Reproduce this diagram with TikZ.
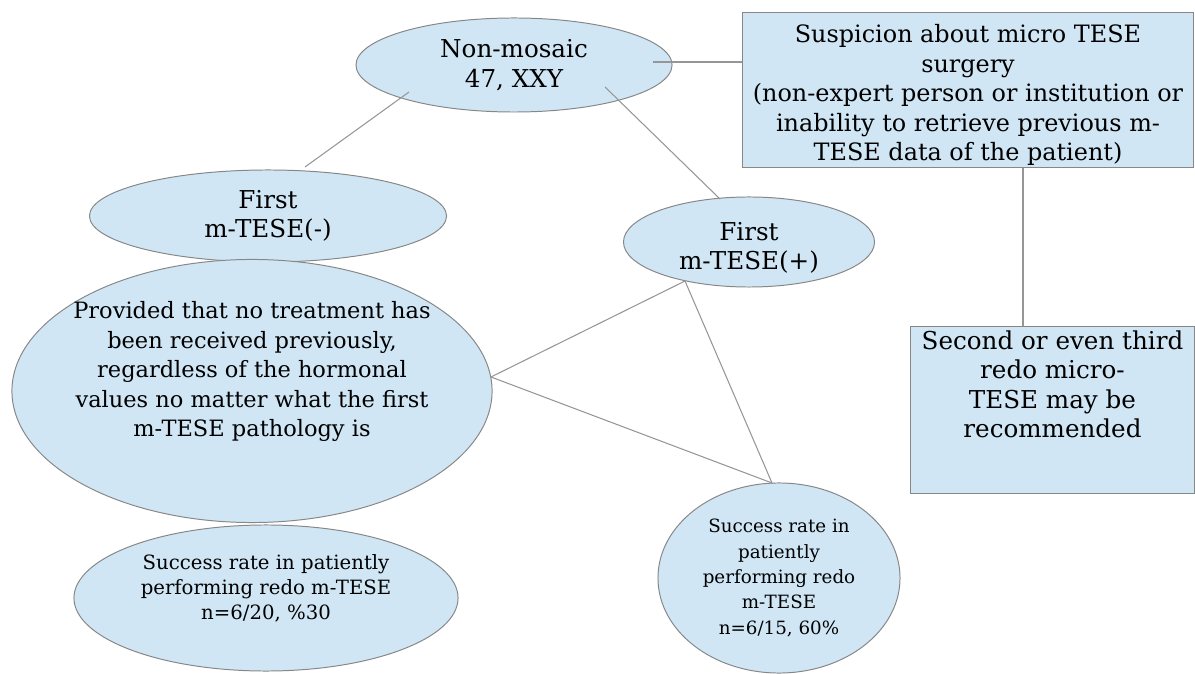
\documentclass[tikz,border=0pt]{standalone}
\usepackage{fontspec}
\setmainfont{DejaVu Serif}
\usetikzlibrary{positioning,calc,shapes.geometric}
\definecolor{paleblue}{RGB}{208,230,245}
\definecolor{rimgray}{RGB}{135,135,135}
\definecolor{linkgray}{RGB}{150,150,150}
\tikzset{
  oval/.style={shape=ellipse,draw=rimgray,fill=paleblue,inner sep=0pt,
    line width=0.7pt,align=center,font=\fontsize{17.5}{21}\selectfont},
  panel/.style={shape=rectangle,draw=rimgray,fill=paleblue,inner sep=0pt,
    line width=0.7pt,align=center,font=\fontsize{17.5}{21}\selectfont},
  smalltext/.style={font=\fontsize{14}{17.8}\selectfont},
  link/.style={draw=linkgray,line width=0.75pt}
}

\begin{document}
\begin{tikzpicture}[x=0.025cm,y=-0.025cm]
  \useasboundingbox (0,0) rectangle (1195,674);
  % the shapes
  \node (nm) [oval,minimum width=7.9cm,minimum height=2.35cm] at (514,65)
    {Non-mosaic\\47, XXY};
  \node (susp) [panel,font=\fontsize{17}{21}\selectfont,
    minimum width=11.25cm,minimum height=3.85cm] at (968,90)
    {\rule{0pt}{20pt}Suspicion about micro TESE\\surgery\\(non-expert person or institution or\\
     inability to retrieve previous m-\\TESE data of the patient)};
  \node (fneg) [oval,minimum width=8.925cm,minimum height=2.3cm] at (268,216)
    {First\\m-TESE(-)};
  \node (fpos) [oval,minimum width=6.275cm,minimum height=2.25cm] at (749,242)
    {\rule{0pt}{21pt}First\\m-TESE(+)};
  \node (prov) [oval,font=\fontsize{16}{21}\selectfont,inner xsep=-7pt,
    minimum width=12cm,minimum height=6.575cm] at (252,391)
    {Provided that no treatment has\\been received previously,\\
     regardless of the hormonal\\values no matter what the first\\
     m-TESE pathology is\\[10pt]\mbox{}};
  \node (sneg) [oval,smalltext,minimum width=9.6cm,minimum height=3.65cm] at (266,598)
    {Success rate in patiently\\performing redo m-TESE\\n=6/20, \%30\\[-2pt]\mbox{}};
  \node (spos) [oval,font=\fontsize{13}{18}\selectfont,
    minimum width=6.05cm,minimum height=4.75cm] at (779,578)
    {Success rate in\\patiently\\performing redo\\m-TESE\\n=6/15, 60\%};
  \node (redo) [panel,minimum width=7.075cm,minimum height=4.15cm] at (1052.5,410)
    {Second or even third\\redo micro-\\TESE may be\\recommended\\[16pt]\mbox{}};
  % the connectors
  \coordinate (nmtie) at ([shift={(139,-3)}]nm.center);
  \draw[link] (nmtie) -- (nmtie -| susp.west);
  \draw[link] ([shift={(-105,27)}]nm.center) -- ([shift={(37,-49)}]fneg.center);
  \draw[link] ([shift={(91,22)}]nm.center) -- ([shift={(-29,-43)}]fpos.center);
  \draw[link] ([shift={(-64,39)}]fpos.center) -- ([shift={(239,-14)}]prov.center)
    -- ([shift={(-7,-95)}]spos.center) -- ([shift={(-64,39)}]fpos.center);
  \draw[link] ([shift={(55,0)}]susp.south) -- ([shift={(-29.5,0)}]redo.north);
\end{tikzpicture}
\end{document}
